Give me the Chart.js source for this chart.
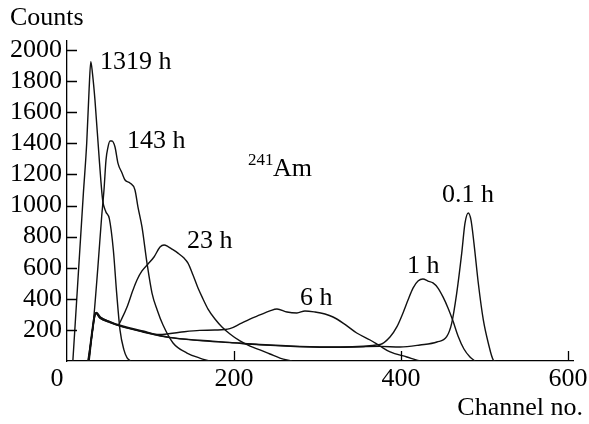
<!DOCTYPE html>
<html>
<head>
<meta charset="utf-8">
<script src="https://cdn.jsdelivr.net/npm/chart.js@4/dist/chart.umd.min.js"></script>
<style>
body { margin: 0; background: #fff; }
</style>
</head>
<body>
<canvas id="myChart" width="589" height="424"></canvas>
<script>
// Spectra of 241Am after different times (channel no. vs counts)
var xTicks = [0, 200, 400, 600];
var yTicks = [200, 400, 600, 800, 1000, 1200, 1400, 1600, 1800, 2000];

// 1319 h
var ch1319 = [7, 11.6, 19.6, 23.6, 26.5, 28.5, 30.5, 33.5, 38.7, 42.7, 46.5, 50.7, 55.5, 59.5, 63.5, 68, 72, 76];
var n1319  = [0, 392, 1078, 1400, 1750, 1925, 1850, 1678, 1292, 1035, 960, 915, 714, 435, 199, 75, 20, 0];

// 143 h
var ch143 = [25, 31, 37, 41.5, 44.3, 46.7, 49.1, 51.5, 53.9, 57.5, 61, 65.9, 69.5, 75.4, 81.4, 85, 89.8, 95.8, 101.8, 108, 115, 127, 143.7, 159, 171];
var n143  = [0, 219, 604, 928, 1100, 1292, 1376, 1415, 1415, 1376, 1273, 1209, 1164, 1145, 1100, 990, 862, 630, 437, 328, 231, 116, 51, 19, 0];

// 23 h
var ch23 = [26, 30, 33.5, 35, 39.5, 51.5, 61, 65.9, 71.9, 79, 83.8, 89.8, 97, 104.2, 111.4, 116.2, 121, 125.7, 132.9, 140.1, 144.9, 150.9, 156.9, 162.9, 168.9, 177.2, 185.6, 195.2, 207.2, 219.2, 231.1, 243.1, 255, 269.5];
var n23  = [0, 180, 300, 310, 282, 252, 232, 276, 347, 456, 521, 579, 624, 669, 733, 746, 736, 720, 694, 662, 630, 553, 469, 399, 334, 270, 219, 174, 129, 96, 71, 45, 19, 0];

// 6 h
var ch6 = [26.5, 30.5, 34, 35.5, 40, 51.5, 63.5, 91, 111, 135, 159, 177, 195, 207, 219, 231, 243, 251.5, 263.5, 275.4, 285, 297, 309, 318.6, 330.6, 347, 363, 375, 387, 407, 419, 423];
var n6  = [0, 185, 305, 312, 282, 253, 230, 193, 170, 185, 197, 199, 208, 238, 270, 296, 322, 334, 315, 309, 322, 315, 302, 283, 244, 180, 135, 96, 58, 26, 6, 0];

// 1 h
var ch1 = [26, 30, 33.5, 35, 39.5, 51.5, 63.5, 91, 123, 159, 195, 231, 279, 327, 375, 386.8, 395, 402.4, 408.4, 414.4, 420.4, 426.3, 432.3, 438.3, 444.3, 450.3, 456.3, 462.3, 468.3, 475.4, 482.6, 488.6];
var n1  = [0, 175, 295, 305, 276, 249, 226, 188, 152, 133, 120, 106, 94, 90, 106, 154, 219, 309, 392, 469, 514, 527, 514, 502, 469, 412, 341, 257, 161, 77, 26, 0];

// 0.1 h
var ch01 = [25.5, 29.5, 33, 34.5, 39, 51.5, 63.5, 91, 123, 159, 195, 231, 279, 327, 375, 398.8, 422.7, 443, 454.7, 460.7, 466.7, 472.7, 476.6, 480.6, 483.8, 487.4, 492.6, 498.6, 504.6, 510.6, 513];
var n01  = [0, 178, 298, 308, 279, 247, 224, 186, 150, 131, 118, 104, 92, 88, 94, 90, 103, 122, 156, 242, 435, 692, 885, 952, 907, 757, 500, 264, 114, 6, 0];

function toPoints(xs, ys) {
    var pts = [];
    for (var i = 0; i < xs.length; i += 1) {
        pts.push({ x: xs[i], y: ys[i] });
    }
    return pts;
}

function spectrum(xs, ys) {
    return {
        data: toPoints(xs, ys),
        borderColor: '#111',
        borderWidth: 1.4,
        pointRadius: 0,
        fill: false,
        cubicInterpolationMode: 'monotone'
    };
}

var serif = '"Liberation Serif", "Times New Roman", serif';

// inward tick marks, x labels, axis titles and curve labels
var decorations = {
    id: 'decorations',
    afterDraw: function(chart) {
        var ctx = chart.ctx;
        var xs = chart.scales.x;
        var ys = chart.scales.y;
        var area = chart.chartArea;
        ctx.save();
        ctx.strokeStyle = '#000';
        ctx.lineWidth = 1.3;
        ctx.beginPath();
        yTicks.forEach(function(v) {
            var py = Math.round(ys.getPixelForValue(v)) + 0.5;
            ctx.moveTo(area.left, py);
            ctx.lineTo(area.left + 10, py);
        });
        xTicks.forEach(function(v) {
            if (v == 0) return;
            var px = Math.round(xs.getPixelForValue(v)) + 0.5;
            ctx.moveTo(px, area.bottom);
            ctx.lineTo(px, area.bottom - 10);
        });
        ctx.stroke();

        ctx.fillStyle = '#000';
        ctx.font = '26px ' + serif;
        ctx.textBaseline = 'middle';
        ctx.textAlign = 'center';
        xTicks.forEach(function(v) {
            var px = xs.getPixelForValue(v);
            if (v == 0) px -= 10;
            ctx.fillText(String(v), px, area.bottom + 18);
        });

        ctx.textAlign = 'left';
        ctx.fillText('Counts', 10, 18);
        ctx.textAlign = 'right';
        ctx.fillText('Channel no.', 583, 408);

        ctx.textAlign = 'left';
        var labels = [
            ['1319 h', 39.5, 1923],
            ['143 h', 71.9, 1411],
            ['23 h', 143.7, 768],
            ['6 h', 279, 405],
            ['1 h', 407.2, 611],
            ['0.1 h', 449, 1067]
        ];
        labels.forEach(function(l) {
            ctx.fillText(l[0], xs.getPixelForValue(l[1]), ys.getPixelForValue(l[2]));
        });

        ctx.textBaseline = 'alphabetic';
        ctx.fillText('Am', xs.getPixelForValue(246.7), ys.getPixelForValue(1190));
        ctx.font = '17px ' + serif;
        ctx.fillText('241', xs.getPixelForValue(216.8), ys.getPixelForValue(1260));
        ctx.restore();
    }
};

new Chart(document.getElementById('myChart'), {
    type: 'line',
    data: {
        datasets: [
            spectrum(ch1319, n1319),
            spectrum(ch143, n143),
            spectrum(ch23, n23),
            spectrum(ch6, n6),
            spectrum(ch1, n1),
            spectrum(ch01, n01)
        ]
    },
    options: {
        responsive: false,
        animation: false,
        devicePixelRatio: 1,
        layout: { padding: { top: 41, right: 16, bottom: 0, left: 0 } },
        plugins: {
            legend: { display: false },
            tooltip: { enabled: false }
        },
        scales: {
            x: {
                type: 'linear',
                min: 0,
                max: 606,
                afterBuildTicks: function(scale) {
                    scale.ticks = xTicks.map(function(v) { return { value: v }; });
                },
                afterFit: function(scale) { scale.height = 63; },
                grid: { display: false, drawTicks: false },
                border: { display: true, color: '#000', width: 1.3 },
                ticks: { display: false }
            },
            y: {
                type: 'linear',
                min: 0,
                max: 2058,
                afterBuildTicks: function(scale) {
                    scale.ticks = yTicks.map(function(v) { return { value: v }; });
                },
                afterFit: function(scale) { scale.width = 67; },
                grid: { display: false, drawTicks: false },
                border: { display: true, color: '#000', width: 1.3 },
                ticks: {
                    color: '#000',
                    padding: 5,
                    font: { family: serif, size: 26 },
                    callback: function(value) { return String(value); }
                }
            }
        }
    },
    plugins: [decorations]
});
</script>
</body>
</html>
